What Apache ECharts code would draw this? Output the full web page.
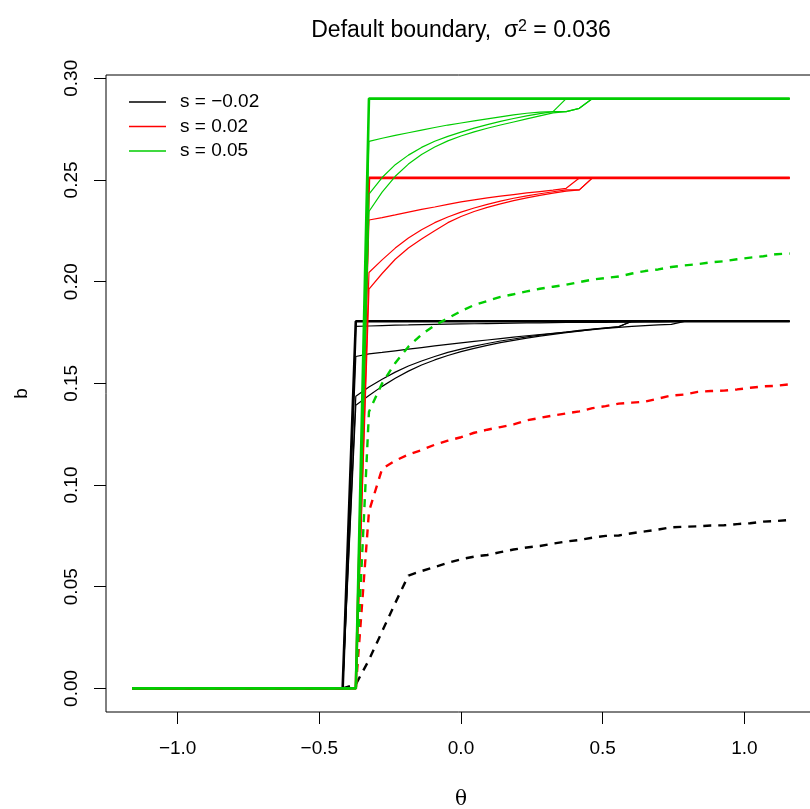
<!DOCTYPE html>
<html>
<head>
<meta charset="utf-8">
<script src="https://cdn.jsdelivr.net/npm/echarts@6/dist/echarts.min.js"></script>
<style>
  html, body { margin: 0; padding: 0; background: #fff; }
  #main { width: 810px; height: 809px; }
</style>
</head>
<body>
<div id="main"></div>
<script>
var myChart = echarts.init(document.getElementById('main'));

// theta grid (51 points)
const theta = [-1.16, -1.1136, -1.0672, -1.0208, -0.9744, -0.928, -0.8816, -0.8352, -0.7888, -0.7424,
  -0.696, -0.6496, -0.6032, -0.5568, -0.5104, -0.464, -0.4176, -0.3712, -0.3248, -0.2784,
  -0.232, -0.1856, -0.1392, -0.0928, -0.0464, 0, 0.0464, 0.0928, 0.1392, 0.1856,
  0.232, 0.2784, 0.3248, 0.3712, 0.4176, 0.464, 0.5104, 0.5568, 0.6032, 0.6496,
  0.696, 0.7424, 0.7888, 0.8352, 0.8816, 0.928, 0.9744, 1.0208, 1.0672, 1.1136, 1.16];

// s = -0.02 (black)
const blackCurveA = [0,0,0,0,0,0,0,0,0,0,0,0,0,0,0,0,
  0, 0.1780, 0.1782, 0.1784, 0.1786, 0.1787, 0.1789, 0.1790, 0.1791, 0.1792,
  0.1793, 0.1794, 0.1795, 0.1796, 0.1797, 0.1797, 0.1798, 0.1799, 0.1799, 0.1800,
  0.1800, 0.1801, 0.1801, 0.1802, 0.1802, 0.1803, 0.1805, 0.1805, 0.1805, 0.1805,
  0.1805, 0.1805, 0.1805, 0.1805, 0.1805];
const blackCurveB = [0,0,0,0,0,0,0,0,0,0,0,0,0,0,0,0,
  0, 0.1632, 0.1645, 0.1652, 0.1660, 0.1668, 0.1676, 0.1684, 0.1692, 0.1699,
  0.1706, 0.1713, 0.1720, 0.1727, 0.1734, 0.1740, 0.1746, 0.1752, 0.1758, 0.1764,
  0.1770, 0.1775, 0.1780, 0.1784, 0.1787, 0.1790, 0.1805, 0.1805, 0.1805, 0.1805,
  0.1805, 0.1805, 0.1805, 0.1805, 0.1805];
const blackCurveC = [0,0,0,0,0,0,0,0,0,0,0,0,0,0,0,0,
  0, 0.1436, 0.1482, 0.1520, 0.1555, 0.1585, 0.1610, 0.1632, 0.1652, 0.1668,
  0.1683, 0.1696, 0.1708, 0.1718, 0.1728, 0.1737, 0.1745, 0.1752, 0.1760, 0.1767,
  0.1773, 0.1779, 0.1805, 0.1805, 0.1805, 0.1805, 0.1805, 0.1805, 0.1805, 0.1805,
  0.1805, 0.1805, 0.1805, 0.1805, 0.1805];
const blackCurveD = [0,0,0,0,0,0,0,0,0,0,0,0,0,0,0,0,
  0, 0.1392, 0.1440, 0.1485, 0.1525, 0.1560, 0.1590, 0.1615, 0.1637, 0.1656,
  0.1672, 0.1687, 0.1700, 0.1711, 0.1722, 0.1732, 0.1741, 0.1749, 0.1757, 0.1765,
  0.1772, 0.1778, 0.1805, 0.1805, 0.1805, 0.1805, 0.1805, 0.1805, 0.1805, 0.1805,
  0.1805, 0.1805, 0.1805, 0.1805, 0.1805];
const blackStep = [0,0,0,0,0,0,0,0,0,0,0,0,0,0,0,0,
  0, 0.1805, 0.1805, 0.1805, 0.1805, 0.1805, 0.1805, 0.1805, 0.1805, 0.1805,
  0.1805, 0.1805, 0.1805, 0.1805, 0.1805, 0.1805, 0.1805, 0.1805, 0.1805, 0.1805,
  0.1805, 0.1805, 0.1805, 0.1805, 0.1805, 0.1805, 0.1805, 0.1805, 0.1805, 0.1805,
  0.1805, 0.1805, 0.1805, 0.1805, 0.1805];
const blackDashed = [0,0,0,0,0,0,0,0,0,0,0,0,0,0,0,0,
  0, 0.002, 0.014, 0.028, 0.042, 0.0555, 0.0577, 0.0597, 0.0617, 0.0635,
  0.0648, 0.0656, 0.0670, 0.0683, 0.0693, 0.0700, 0.0712, 0.0722, 0.0730, 0.0741,
  0.0750, 0.0752, 0.0763, 0.0772, 0.0781, 0.0792, 0.0795, 0.0797, 0.0801, 0.0802,
  0.0808, 0.0812, 0.0820, 0.0823, 0.0828];

// s = 0.02 (red)
const redCurveA = [0,0,0,0,0,0,0,0,0,0,0,0,0,0,0,0,
  0, 0, 0.2303, 0.2315, 0.2328, 0.2342, 0.2355, 0.2367, 0.2380, 0.2392,
  0.2402, 0.2412, 0.2420, 0.2428, 0.2436, 0.2443, 0.2450, 0.2459, 0.2510, 0.2510,
  0.2510, 0.2510, 0.2510, 0.2510, 0.2510, 0.2510, 0.2510, 0.2510, 0.2510, 0.2510,
  0.2510, 0.2510, 0.2510, 0.2510, 0.2510];
const redCurveB = [0,0,0,0,0,0,0,0,0,0,0,0,0,0,0,0,
  0, 0, 0.2045, 0.2107, 0.2165, 0.2215, 0.2255, 0.2290, 0.2318, 0.2342,
  0.2362, 0.2380, 0.2396, 0.2410, 0.2422, 0.2432, 0.2442, 0.2451, 0.2451, 0.2510,
  0.2510, 0.2510, 0.2510, 0.2510, 0.2510, 0.2510, 0.2510, 0.2510, 0.2510, 0.2510,
  0.2510, 0.2510, 0.2510, 0.2510, 0.2510];
const redCurveC = [0,0,0,0,0,0,0,0,0,0,0,0,0,0,0,0,
  0, 0, 0.1963, 0.2040, 0.2110, 0.2165, 0.2210, 0.2250, 0.2290, 0.2320,
  0.2345, 0.2365, 0.2382, 0.2398, 0.2412, 0.2424, 0.2435, 0.2445, 0.2451, 0.2510,
  0.2510, 0.2510, 0.2510, 0.2510, 0.2510, 0.2510, 0.2510, 0.2510, 0.2510, 0.2510,
  0.2510, 0.2510, 0.2510, 0.2510, 0.2510];
const redStep = [0,0,0,0,0,0,0,0,0,0,0,0,0,0,0,0,
  0, 0, 0.2510, 0.2510, 0.2510, 0.2510, 0.2510, 0.2510, 0.2510, 0.2510,
  0.2510, 0.2510, 0.2510, 0.2510, 0.2510, 0.2510, 0.2510, 0.2510, 0.2510, 0.2510,
  0.2510, 0.2510, 0.2510, 0.2510, 0.2510, 0.2510, 0.2510, 0.2510, 0.2510, 0.2510,
  0.2510, 0.2510, 0.2510, 0.2510, 0.2510];
const redDashed = [0,0,0,0,0,0,0,0,0,0,0,0,0,0,0,0,
  0, 0, 0.087, 0.108, 0.112, 0.1150, 0.1172, 0.1198, 0.1218, 0.1235,
  0.1257, 0.1272, 0.1285, 0.1298, 0.1318, 0.1330, 0.1342, 0.1352, 0.1362, 0.1378,
  0.1388, 0.1400, 0.1405, 0.1410, 0.1425, 0.1440, 0.1445, 0.1458, 0.1462, 0.1464,
  0.1470, 0.1478, 0.1485, 0.1488, 0.1495];

// s = 0.05 (green)
const greenCurveA = [0,0,0,0,0,0,0,0,0,0,0,0,0,0,0,0,
  0, 0, 0.2690, 0.2705, 0.2719, 0.2732, 0.2745, 0.2758, 0.2770, 0.2780,
  0.2790, 0.2800, 0.2810, 0.2820, 0.2828, 0.2833, 0.2836, 0.2900, 0.2900, 0.2900,
  0.2900, 0.2900, 0.2900, 0.2900, 0.2900, 0.2900, 0.2900, 0.2900, 0.2900, 0.2900,
  0.2900, 0.2900, 0.2900, 0.2900, 0.2900];
const greenCurveB = [0,0,0,0,0,0,0,0,0,0,0,0,0,0,0,0,
  0, 0, 0.2430, 0.2512, 0.2575, 0.2622, 0.2660, 0.2690, 0.2714, 0.2735,
  0.2755, 0.2772, 0.2788, 0.2802, 0.2815, 0.2826, 0.2836, 0.2836, 0.2852, 0.2900,
  0.2900, 0.2900, 0.2900, 0.2900, 0.2900, 0.2900, 0.2900, 0.2900, 0.2900, 0.2900,
  0.2900, 0.2900, 0.2900, 0.2900, 0.2900];
const greenCurveC = [0,0,0,0,0,0,0,0,0,0,0,0,0,0,0,0,
  0, 0, 0.2345, 0.2440, 0.2518, 0.2578, 0.2625, 0.2662, 0.2692, 0.2716,
  0.2736, 0.2754, 0.2770, 0.2785, 0.2800, 0.2815, 0.2830, 0.2836, 0.2852, 0.2900,
  0.2900, 0.2900, 0.2900, 0.2900, 0.2900, 0.2900, 0.2900, 0.2900, 0.2900, 0.2900,
  0.2900, 0.2900, 0.2900, 0.2900, 0.2900];
const greenStep = [0,0,0,0,0,0,0,0,0,0,0,0,0,0,0,0,
  0, 0, 0.2900, 0.2900, 0.2900, 0.2900, 0.2900, 0.2900, 0.2900, 0.2900,
  0.2900, 0.2900, 0.2900, 0.2900, 0.2900, 0.2900, 0.2900, 0.2900, 0.2900, 0.2900,
  0.2900, 0.2900, 0.2900, 0.2900, 0.2900, 0.2900, 0.2900, 0.2900, 0.2900, 0.2900,
  0.2900, 0.2900, 0.2900, 0.2900, 0.2900];
const greenDashed = [0,0,0,0,0,0,0,0,0,0,0,0,0,0,0,0,
  0, 0, 0.136, 0.150, 0.160, 0.168, 0.174, 0.1785, 0.182, 0.1855,
  0.1885, 0.1905, 0.1925, 0.1938, 0.1952, 0.1965, 0.1975, 0.1985, 0.1998, 0.2010,
  0.2018, 0.2025, 0.2040, 0.2052, 0.2060, 0.2072, 0.2080, 0.2086, 0.2095, 0.2100,
  0.2110, 0.2118, 0.2125, 0.2135, 0.2138];

// tick labels
const xTicks = [-1.0, -0.5, 0.0, 0.5, 1.0];
const yTicks = [0, 0.05, 0.10, 0.15, 0.20, 0.25, 0.30];
const legendNames = ['s = \u22120.02', 's = 0.02', 's = 0.05'];

const FONT = 'Liberation Sans, Arial, sans-serif';
const BLACK = '#000000', RED = '#FF0000', GREEN = '#00CD00';

function line(name, vals, color, width, dashed) {
    return {
        name: name,
        type: 'line',
        data: theta.map((t, i) => [t, vals[i]]),
        symbol: 'none',
        silent: true,
        itemStyle: { color: color },
        lineStyle: { color: color, width: width, type: dashed ? [8, 7] : 'solid' }
    };
}

const series = [
    line(legendNames[0], blackCurveA, BLACK, 1.2),
    line(legendNames[0], blackCurveB, BLACK, 1.2),
    line(legendNames[0], blackCurveC, BLACK, 1.2),
    line(legendNames[0], blackCurveD, BLACK, 1.2),
    line(legendNames[0], blackStep, BLACK, 2.6),
    line(legendNames[0], blackDashed, BLACK, 2.4, true),
    line(legendNames[1], redCurveA, RED, 1.2),
    line(legendNames[1], redCurveB, RED, 1.2),
    line(legendNames[1], redCurveC, RED, 1.2),
    line(legendNames[1], redStep, RED, 2.6),
    line(legendNames[1], redDashed, RED, 2.4, true),
    line(legendNames[2], greenCurveA, GREEN, 1.2),
    line(legendNames[2], greenCurveB, GREEN, 1.2),
    line(legendNames[2], greenCurveC, GREEN, 1.2),
    line(legendNames[2], greenStep, GREEN, 2.6),
    line(legendNames[2], greenDashed, GREEN, 2.4, true)
];

var option = {
    animation: false,
    backgroundColor: '#ffffff',
    title: {
        text: '{t|Default boundary,  \u03c3}{s|2}{t| = 0.036}',
        left: 456,
        top: 14,
        textAlign: 'center',
        textStyle: {
            fontWeight: 'normal',
            rich: {
                t: { fontSize: 23, fontFamily: FONT, color: '#000', fontWeight: 'normal' },
                s: { fontSize: 16, fontFamily: FONT, color: '#000', fontWeight: 'normal', verticalAlign: 'top', padding: [0, 0, 8, 0] }
            }
        }
    },
    legend: {
        data: legendNames,
        orient: 'vertical',
        left: 124,
        top: 87,
        icon: 'rect',
        itemWidth: 37,
        itemHeight: 1.5,
        itemGap: 4.5,
        selectedMode: false,
        textStyle: { fontSize: 19, fontFamily: FONT, color: '#000', lineHeight: 20, padding: [0, 0, 0, 9] }
    },
    grid: {
        left: 106,
        top: 75,
        width: 710,
        height: 637,
        outerBoundsMode: 'none',
        containLabel: false,
        show: true,
        borderColor: '#000',
        borderWidth: 1
    },
    xAxis: {
        type: 'value',
        min: -1.2528,
        max: 1.2528,
        name: '\u03b8',
        nameLocation: 'middle',
        nameGap: 78,
        nameTextStyle: { fontSize: 20, fontFamily: 'DejaVu Serif, serif', color: '#000' },
        axisLine: { show: false, onZero: false },
        splitLine: { show: false },
        axisTick: { show: true, length: 12, customValues: xTicks, lineStyle: { color: '#000', width: 1 } },
        axisLabel: {
            customValues: xTicks,
            margin: 27,
            fontSize: 19,
            fontFamily: FONT,
            color: '#000',
            formatter: v => v.toFixed(1).replace('-', '\u2212')
        }
    },
    yAxis: {
        type: 'value',
        min: -0.0116,
        max: 0.3016,
        name: 'b',
        nameLocation: 'middle',
        nameGap: 75,
        nameRotate: 90,
        nameTextStyle: { fontSize: 19, fontFamily: FONT, color: '#000' },
        axisLine: { show: false, onZero: false },
        splitLine: { show: false },
        axisTick: { show: true, length: 12, customValues: yTicks, lineStyle: { color: '#000', width: 1 } },
        axisLabel: {
            customValues: yTicks,
            rotate: 90,
            margin: 25,
            fontSize: 19,
            fontFamily: FONT,
            color: '#000',
            formatter: v => v.toFixed(2)
        }
    },
    series: series
};

myChart.setOption(option);
</script>
</body>
</html>
